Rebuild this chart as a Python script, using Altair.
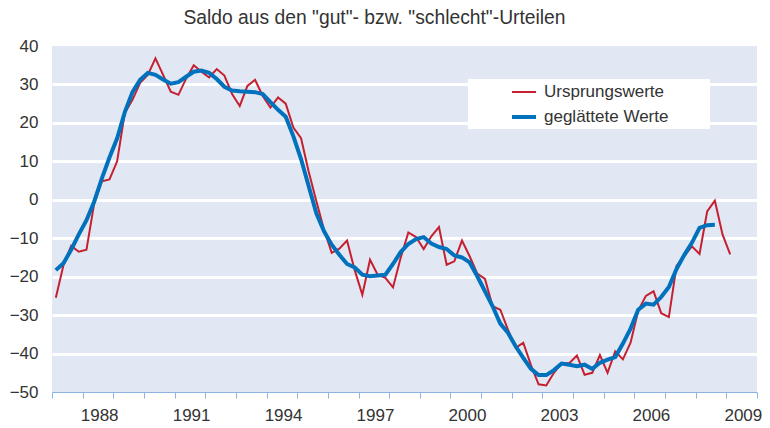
import altair as alt
import pandas as pd

# Quarterly values starting 1986 Q3 (index 0)
ursprung = [
    -25.5, -17, -12, -13.5, -13, -1, 4.8, 5.3, 10, 22.6,
    26, 30.4, 32.5, 36.8, 32.5, 28.1, 27.3, 31.5, 35, 33.3,
    31.8, 34, 32.3, 27.5, 24.4, 29.6, 31.2, 27, 24, 26.6,
    25, 18.8, 16, 7.3, -0.4, -7.8, -13.8, -12.7, -10.6, -18.3,
    -24.7, -15.6, -19.5, -20.3, -22.8, -15.1, -8.5, -9.7, -12.8, -9.5,
    -7.1, -16.9, -16, -10.6, -14.7, -19.2, -20.6, -27.7, -28.6, -33.8,
    -38.5, -37.2, -43, -48, -48.3, -45, -42.5, -42.5, -40.5, -45.5,
    -45, -40.4, -45, -39.4, -41.5, -37.2, -28.8, -25, -23.8, -29.5,
    -30.5, -17.2, -14.7, -12.1, -14.1, -3, -0.2, -9, -14.2,
]
geglaettet = [
    -18.3, -16.5, -13, -9, -5.3, -0.5, 5.5, 11, 16, 22.8,
    28, 31.2, 33, 32.5, 31.3, 30.2, 30.6, 32, 33.3, 33.6,
    33, 31.4, 29.4, 28.4, 28.2, 28.1, 28, 27.5, 25.4, 23.4,
    21.6, 16.5, 10.6, 3.5, -3.5, -8.2, -11.7, -14.3, -16.7, -17.6,
    -19.5, -19.9, -19.7, -19.5, -16.7, -13.6, -11.5, -10.2, -9.7, -11.4,
    -12.3, -12.8, -14.5, -15, -16.3, -19.9, -23.8, -27.7, -32.2, -34.6,
    -38.1, -41.1, -44, -45.6, -45.6, -44.3, -42.6, -42.9, -43.3, -42.9,
    -44, -42.4, -41.6, -40.9, -37.4, -33.5, -28.6, -27, -27.3, -25.3,
    -22.7, -18, -14.4, -11.2, -7.3, -6.6, -6.5,
]
series_names = ["Ursprungswerte", "geglättete Werte"]
series_colors = ["#C5202F", "#0071BC"]
series_widths = [2, 4]
year_labels = ["1988", "1991", "1994", "1997", "2000", "2003", "2006", "2009"]
y_ticks = [-50, -40, -30, -20, -10, 0, 10, 20, 30, 40]
title_text = 'Saldo aus den "gut"- bzw. "schlecht"-Urteilen'

rows = []
for i, v in enumerate(ursprung):
    rows.append({"q": i, "value": v, "series": series_names[0], "order": 0})
for i, v in enumerate(geglaettet):
    rows.append({"q": i, "value": v, "series": series_names[1], "order": 1})
df = pd.DataFrame(rows)

# ticks at year boundaries (every 4 quarters), labels every 3 years
tick_vals = [-0.5 + 4 * k for k in range(24)]
lab_arr = "[" + ",".join("'" + s + "'" for s in year_labels) + "]"
label_expr = ("(datum.value - 3.5) % 12 == 0 && datum.value >= 3.5 ? "
              + lab_arr + "[(datum.value - 3.5) / 12] : ''")

FONT = "Liberation Sans"
TXT = "#333333"

x_enc = alt.X(
    "q:Q",
    scale=alt.Scale(domain=[-0.5, 91.5], nice=False, zero=False),
    axis=alt.Axis(
        values=tick_vals,
        labelExpr=label_expr,
        labelOffset=16.5,
        labelOverlap=False,
        labelFlush=False,
        labelBound=False,
        grid=False,
        title=None,
        domainColor="#8DB3E2",
        domainWidth=1,
        tickColor="#8DB3E2",
        tickSize=6,
        labelPadding=9,
        labelFont=FONT,
        labelFontSize=17,
        labelColor=TXT,
    ),
)
y_enc = alt.Y(
    "value:Q",
    scale=alt.Scale(domain=[-50, 40], nice=False),
    axis=alt.Axis(
        values=y_ticks,
        title=None,
        domain=False,
        ticks=False,
        grid=True,
        gridColor="white",
        gridWidth=3,
        gridOpacity={"condition": {"test": "datum.value <= -50 || datum.value >= 40", "value": 0}, "value": 1},
        labelPadding=14,
        labelFont=FONT,
        labelFontSize=17,
        labelColor=TXT,
    ),
)

legend_box = alt.Chart(pd.DataFrame({"a": [0]})).mark_rect(color="white").encode(
    x=alt.value(416), x2=alt.value(658), y=alt.value(33), y2=alt.value(83)
)

lines = alt.Chart(df).mark_line(strokeJoin="miter").encode(
    x=x_enc,
    y=y_enc,
    color=alt.Color(
        "series:N",
        scale=alt.Scale(domain=series_names, range=series_colors),
        legend=alt.Legend(
            title=None,
            orient="none",
            legendX=458,
            legendY=33,
            padding=0,
            symbolType="stroke",
            symbolSize=576,
            symbolOffset=0,
            labelOffset=6,
            rowPadding=3,
            labelFont=FONT,
            labelFontSize=17,
            labelColor=TXT,
        ),
    ),
    strokeWidth=alt.StrokeWidth(
        "series:N",
        scale=alt.Scale(domain=series_names, range=series_widths),
        legend=None,
    ),
    order="order:Q",
    detail="series:N",
)

chart = alt.layer(legend_box, lines).properties(
    width=705,
    height=346,
    title=alt.Title(text=title_text, dx=-30, offset=9),
    autosize=alt.AutoSizeParams(type="none"),
    padding={"left": 44, "top": 38, "right": 5, "bottom": 34},
).configure_view(
    fill="#E1E8F4", stroke=None
).configure_title(
    font=FONT, fontSize=19.3, fontWeight="normal", color=TXT, anchor="middle"
)

chart.save("out.html", embed_options={"renderer": "svg", "actions": False})
